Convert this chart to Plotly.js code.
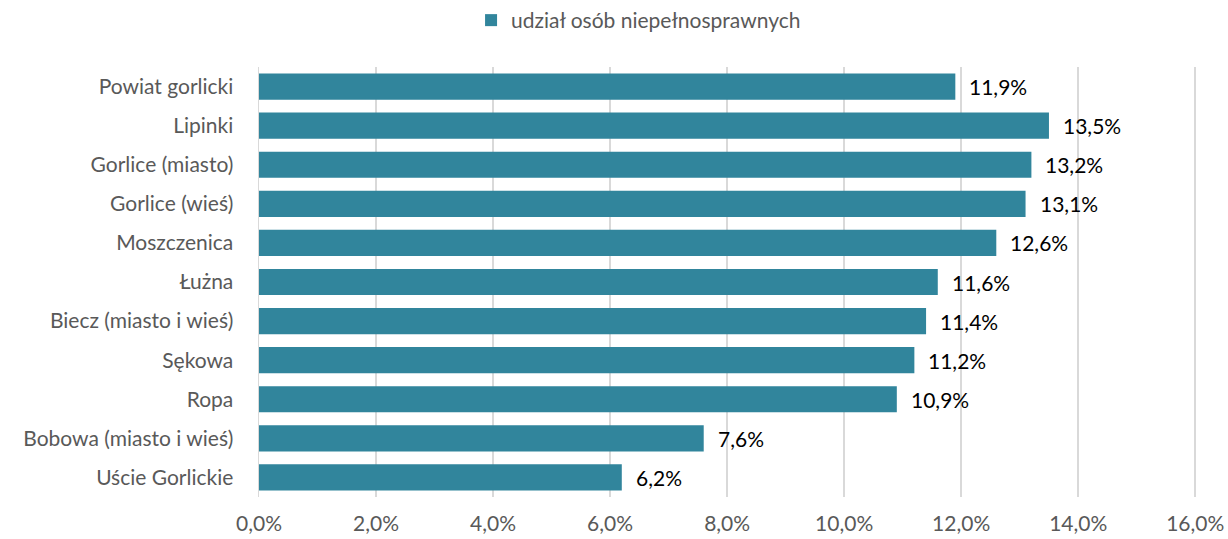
<!DOCTYPE html>
<html>
<head>
<meta charset="utf-8">
<script src="https://cdn.plot.ly/plotly-3.0.1.min.js"></script>
<style>
  html, body { margin: 0; padding: 0; background: #fff; }
  #chart { width: 1228px; height: 539px; }
</style>
</head>
<body>
<div id="chart"></div>
<script>
var gminy = ['Powiat gorlicki', 'Lipinki', 'Gorlice (miasto)', 'Gorlice (wieś)', 'Moszczenica',
  'Łużna', 'Biecz (miasto i wieś)', 'Sękowa', 'Ropa', 'Bobowa (miasto i wieś)', 'Uście Gorlickie'];
var udzial = [11.9, 13.5, 13.2, 13.1, 12.6, 11.6, 11.4, 11.2, 10.9, 7.6, 6.2];
var xTicks = [0, 2, 4, 6, 8, 10, 12, 14, 16];
var xTickText = ['0,0%', '2,0%', '4,0%', '6,0%', '8,0%', '10,0%', '12,0%', '14,0%', '16,0%'];

var fontName = 'Lato, "Open Sans", sans-serif';

var trace = {
  type: 'bar',
  orientation: 'h',
  x: udzial,
  y: gminy,
  name: 'udział osób niepełnosprawnych',
  marker: { color: '#31859c' },
  hoverinfo: 'x+y'
};

// etykiety wartości po prawej stronie słupków
var labels = udzial.map(function (v, i) {
  return {
    x: v, y: gminy[i],
    xref: 'x', yref: 'y',
    text: v.toFixed(1).replace('.', ',') + '%',
    showarrow: false,
    xanchor: 'left',
    xshift: 12,
    font: { family: fontName, size: 21, color: '#000' }
  };
});

var layout = {
  width: 1228,
  height: 539,
  margin: { l: 259, r: 31, t: 67, b: 42 },
  paper_bgcolor: '#fff',
  plot_bgcolor: '#fff',
  font: { family: fontName, size: 21, color: '#595959' },
  bargap: 0.33,
  showlegend: true,
  legend: {
    orientation: 'h',
    xref: 'container', yref: 'container',
    x: 0.52, xanchor: 'center',
    y: 0.962, yanchor: 'middle',
    itemwidth: 20,
    font: { size: 21, color: '#595959' }
  },
  xaxis: {
    range: [0, 16.03],
    tickvals: xTicks,
    ticktext: xTickText,
    showgrid: true,
    gridcolor: '#d9d9d9',
    gridwidth: 1.5,
    zeroline: false,
    showline: false,
    ticks: '',
    ticklabelstandoff: 12,
    fixedrange: true
  },
  yaxis: {
    autorange: 'reversed',
    showline: true,
    linecolor: '#d9d9d9',
    linewidth: 1.5,
    ticks: '',
    ticklabelstandoff: 20,
    fixedrange: true
  },
  annotations: labels
};

Plotly.newPlot('chart', [trace], layout, { displayModeBar: false, staticPlot: true });
</script>
</body>
</html>
